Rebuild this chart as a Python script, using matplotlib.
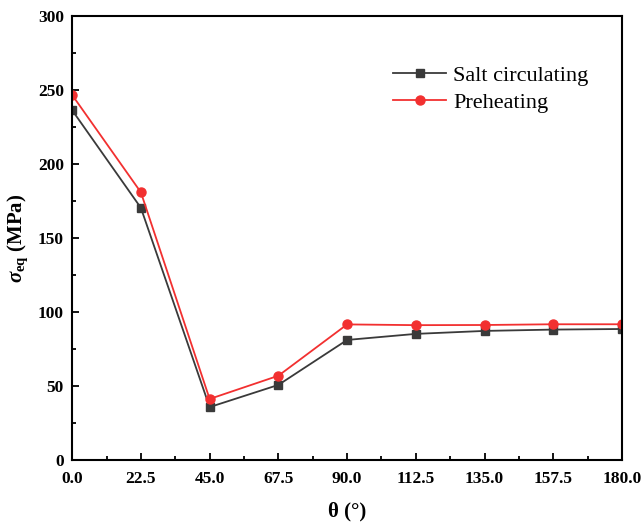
import matplotlib
matplotlib.use("Agg")
import matplotlib.pyplot as plt
from matplotlib.ticker import MultipleLocator, FormatStrFormatter

theta = [0.0, 22.5, 45.0, 67.5, 90.0, 112.5, 135.0, 157.5, 180.0]
salt_circulating = [236.5, 170.5, 35.8, 50.8, 81.2, 85.3, 87.3, 88.2, 88.6]
preheating = [246.8, 181.0, 41.3, 57.0, 91.7, 91.2, 91.3, 91.8, 91.8]

plt.rcParams['font.family'] = ['Liberation Serif', 'DejaVu Serif']
plt.rcParams['mathtext.fontset'] = 'custom'
plt.rcParams['mathtext.rm'] = 'Liberation Serif'
plt.rcParams['mathtext.it'] = 'Liberation Serif:italic:bold'
plt.rcParams['mathtext.bf'] = 'Liberation Serif:bold'

fig = plt.figure(figsize=(6.44, 5.24), dpi=100)
ax = fig.add_axes([0.112, 0.122, 0.854, 0.847])

ax.plot(theta, salt_circulating, color='#3a3a3a', lw=1.3, marker='s', ms=6,
        label='Salt circulating')
ax.plot(theta, preheating, color='#f23030', lw=1.3, marker='o', ms=6.5,
        label='Preheating')

ax.set_xlim(0, 180)
ax.set_ylim(0, 300)
ax.xaxis.set_major_locator(MultipleLocator(22.5))
ax.xaxis.set_minor_locator(MultipleLocator(11.25))
ax.yaxis.set_major_locator(MultipleLocator(50))
ax.yaxis.set_minor_locator(MultipleLocator(25))
ax.xaxis.set_major_formatter(FormatStrFormatter('%.1f'))

ax.tick_params(axis='both', which='both', direction='in', top=False, right=False,
               width=1.3)
ax.tick_params(axis='both', which='major', length=5, labelsize=12.5)
ax.tick_params(axis='x', which='major', pad=8)
ax.tick_params(axis='y', which='major', pad=6)
ax.tick_params(axis='both', which='minor', length=3)
for lbl in ax.get_xticklabels() + ax.get_yticklabels():
    lbl.set_fontweight('bold')

for sp in ax.spines.values():
    sp.set_linewidth(1.5)

ax.set_xlabel('θ (°)', fontsize=15, fontweight='bold', labelpad=10)
ax.set_ylabel(r'$\mathit{\sigma}_{\mathbf{eq}}$ (MPa)', fontsize=15,
              fontweight='bold')
ax.yaxis.set_label_coords(-0.076, 0.5)

ax.legend(loc='upper left', bbox_to_anchor=(0.547, 0.935), frameon=False,
          fontsize=16, handlelength=2.4, handletextpad=0.3, labelspacing=0.3)

fig.savefig('out.png', dpi=100)
